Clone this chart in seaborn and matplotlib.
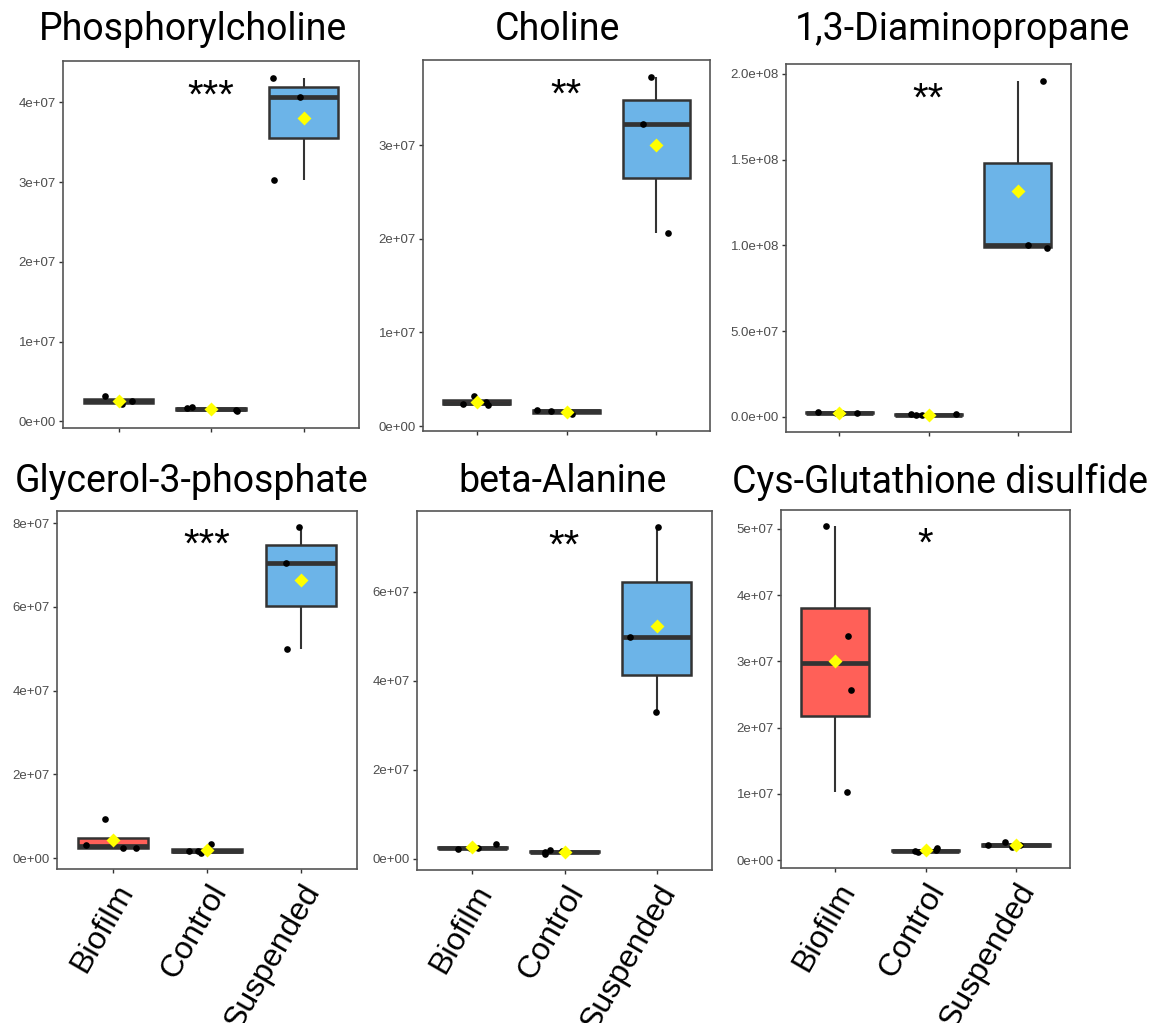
import numpy as np
import pandas as pd
import matplotlib
matplotlib.use("Agg")
import matplotlib.pyplot as plt
import seaborn as sns

sns.set_theme(style="white")
plt.rcParams['font.family'] = ['Liberation Sans', 'DejaVu Sans']

groups = ["Biofilm", "Control", "Suspended"]

phos_biofilm = [2.2e6, 2.6e6, 3.2e6, 2.4e6]
phos_control = [1.46e6, 1.25e6, 1.67e6, 1.8e6]
phos_suspended = [30.3e6, 40.7e6, 43.1e6]

chol_biofilm = [3.26e6, 2.59e6, 2.41e6, 2.23e6]
chol_control = [1.28e6, 1.77e6, 1.49e6, 1.66e6]
chol_suspended = [37.3e6, 32.3e6, 20.6e6]

diam_biofilm = [2.1e6, 3.1e6, 2.1e6, 2.5e6]
diam_control = [1.2e6, 1.9e6, 1.0e6, 1.55e6]
diam_suspended = [98.3e6, 100.0e6, 196.0e6]

glyc_biofilm = [2.46e6, 9.43e6, 3.09e6, 2.38e6]
glyc_control = [3.4e6, 1.66e6, 1.7e6, 1.27e6]
glyc_suspended = [79.05e6, 70.6e6, 50.0e6]

bala_biofilm = [2.4e6, 3.2e6, 2.5e6, 2.1e6]
bala_control = [1.86e6, 1.64e6, 1.12e6, 1.49e6]
bala_suspended = [74.5e6, 49.8e6, 32.9e6]

cys_biofilm = [50.4e6, 33.9e6, 25.6e6, 10.2e6]
cys_control = [1.75e6, 1.25e6, 1.45e6, 1.4e6]
cys_suspended = [2.25e6, 2.65e6, 2.0e6, 2.3e6]

titles = ["Phosphorylcholine", "Choline", "1,3-Diaminopropane",
          "Glycerol-3-phosphate", "beta-Alanine", "Cys-Glutathione disulfide"]
stars = ["***", "**", "**", "***", "**", "*"]
ytick_steps = [1e7, 1e7, 5e7, 2e7, 2e7, 1e7]
ytick_max = [4e7, 3e7, 2e8, 8e7, 6e7, 5e7]
ytick_fmt = ["%.0e", "%.0e", "%.1e", "%.0e", "%.0e", "%.0e"]

panel_data = [
    (phos_biofilm, phos_control, phos_suspended),
    (chol_biofilm, chol_control, chol_suspended),
    (diam_biofilm, diam_control, diam_suspended),
    (glyc_biofilm, glyc_control, glyc_suspended),
    (bala_biofilm, bala_control, bala_suspended),
    (cys_biofilm, cys_control, cys_suspended),
]

palette = {"Biofilm": "#FF6058", "Control": "#BDBDBD", "Suspended": "#6CB4E8"}

W, H = 1151, 1023
fig = plt.figure(figsize=(W / 100, H / 100), dpi=100)

# pixel boxes: left, top, right, bottom
boxes = [
    (63, 61, 359, 428),
    (423, 60, 710, 431),
    (786, 64, 1071, 432),
    (57, 511, 357, 869),
    (417, 511, 712, 870),
    (781, 510, 1070, 868),
]
title_pos = [(193, 30), (557, 30), (962, 30), (192, 482), (563, 482), (940, 482)]
show_xlabels = [False, False, False, True, True, True]

np.random.seed(3)
for i, (vals, box) in enumerate(zip(panel_data, boxes)):
    l, t, r, b = box
    ax = fig.add_axes([l / W, 1 - b / H, (r - l) / W, (b - t) / H])
    rows = []
    for g, v in zip(groups, vals):
        for x in v:
            rows.append((g, x))
    df = pd.DataFrame(rows, columns=["group", "value"])

    sns.boxplot(data=df, x="group", y="value", hue="group", order=groups,
                hue_order=groups, palette=palette, saturation=1, width=0.75,
                showfliers=False, linecolor="#333333", linewidth=1.8,
                legend=False, ax=ax,
                medianprops={"linewidth": 3.4, "color": "#333333"},
                capprops={"visible": False},
                whiskerprops={"linewidth": 1.5, "color": "#333333"})
    sns.stripplot(data=df, x="group", y="value", order=groups, color="black",
                  jitter=0.35, size=4.8, ax=ax, zorder=4)
    sns.pointplot(data=df, x="group", y="value", order=groups, estimator="mean",
                  errorbar=None, markers="D", linestyles="none", color="#FFFF00",
                  markersize=5.5, ax=ax, zorder=5)

    allv = df["value"].values
    lo, hi = allv.min(), allv.max()
    pad = 0.05 * (hi - lo)
    ax.set_ylim(lo - pad, hi + pad)
    ax.set_xlim(-0.6, 2.6)

    yt = np.arange(0, ytick_max[i] + ytick_steps[i] / 2, ytick_steps[i])
    ax.set_yticks(yt)
    ax.set_yticklabels([ytick_fmt[i] % v for v in yt])
    ax.set_xticks(range(3))
    if show_xlabels[i]:
        ax.set_xticklabels(groups, rotation=60, ha="right", rotation_mode="anchor",
                           fontsize=23, color="black")
    else:
        ax.set_xticklabels([])
    ax.set_xlabel("")
    ax.set_ylabel("")
    ax.tick_params(axis="y", labelsize=9.5, labelcolor="#4D4D4D", length=3,
                   width=1, color="#333333", pad=2, left=True)
    ax.tick_params(axis="x", length=3, width=1, color="#333333", pad=4, bottom=True)
    for s in ax.spines.values():
        s.set_visible(True)
        s.set_color("#555555")
        s.set_linewidth(1.2)
    ax.set_facecolor("white")
    ax.text(1, 0.955, stars[i], transform=ax.get_xaxis_transform(), ha="center",
            va="top", fontsize=29, color="black")

    tx, ty = title_pos[i]
    fig.text(tx / W, 1 - ty / H, titles[i], ha="center", va="center",
             fontsize=27, family=["Roboto", "DejaVu Sans"], color="black")

fig.savefig("out.png", dpi=100, facecolor="white")
